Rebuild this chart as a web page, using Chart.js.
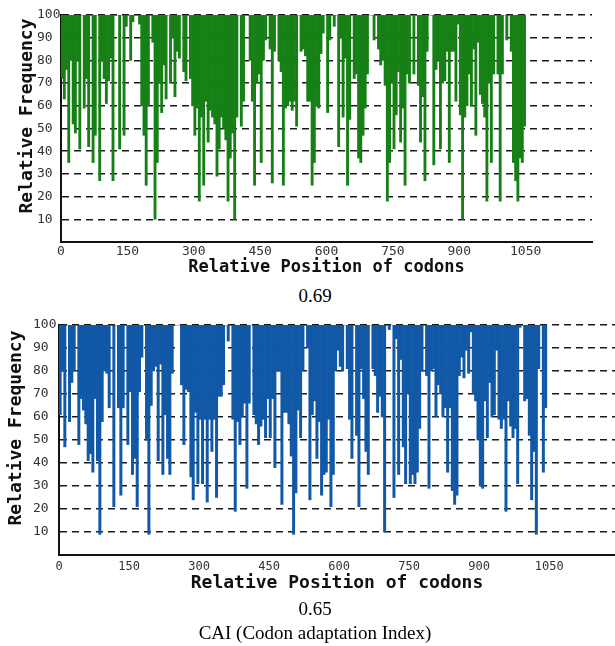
<!DOCTYPE html>
<html lang="en">
  <head>
    <meta charset="UTF-8">
    <title>Relative adaptiveness of codons</title>
    <script src="https://cdn.jsdelivr.net/npm/chart.js@4.4.1/dist/chart.umd.min.js"></script>
    <style>
      body { margin: 0; background: #fff; width: 615px; height: 646px; position: relative; overflow: hidden; }
      canvas { position: absolute; left: 0; }
      #chart_top { top: 0; }
      #chart_bottom { top: 310px; }
      .caption { position: absolute; left: 0; width: 630px; text-align: center;
                 font-family: "Liberation Serif", serif; font-size: 19px; line-height: 20px; color: #000; }
    </style>
    <script>
      // each value covers a bin of 5 codons
      const binSize = 5;
      const xTickLabels = [0, 150, 300, 450, 600, 750, 900, 1050];
      const yTickLabels = [10, 20, 30, 40, 50, 60, 70, 80, 90, 100];
      const topValues = [
        72, 63, 76, 35, 80, 52, 48, 80, 41, 100,
        59, 72, 42, 100, 35, 47, 100, 27, 80, 72,
        61, 71, 81, 27, 100, 100, 41, 100, 47, 95,
        100, 80, 97, 100, 100, 96, 60, 47, 25, 60,
        100, 88, 10, 35, 70, 57, 78, 63, 100, 70,
        90, 64, 84, 81, 100, 75, 71, 100, 72, 60,
        47, 59, 18, 55, 25, 62, 44, 58, 55, 52,
        29, 41, 55, 50, 45, 18, 37, 48, 10, 55,
        100, 51, 62, 100, 100, 80, 62, 25, 70, 74,
        35, 80, 89, 100, 85, 26, 84, 100, 80, 75,
        25, 59, 60, 62, 58, 62, 51, 100, 84, 85,
        82, 62, 62, 25, 35, 60, 59, 83, 92, 100,
        57, 89, 100, 95, 100, 42, 90, 55, 81, 25,
        54, 100, 72, 74, 37, 35, 47, 59, 74, 100,
        100, 89, 100, 85, 78, 80, 69, 18, 35, 70,
        41, 56, 75, 44, 59, 25, 74, 70, 100, 74,
        100, 69, 44, 64, 27, 84, 100, 100, 34, 76,
        80, 41, 70, 71, 84, 35, 84, 84, 62, 96,
        56, 10, 55, 60, 74, 60, 85, 47, 88, 65,
        61, 55, 18, 70, 35, 74, 100, 74, 18, 74,
        100, 89, 100, 84, 35, 27, 18, 37, 35, 51
      ];
      const bottomValues = [
        61, 80, 47, 100, 58, 75, 80, 100, 48, 68,
        63, 57, 41, 44, 36, 68, 41, 9, 58, 80,
        79, 64, 100, 21, 100, 64, 26, 64, 100, 48,
        71, 35, 42, 21, 71, 86, 100, 50, 9, 65,
        80, 82, 41, 83, 35, 61, 42, 35, 79, 100,
        100, 100, 74, 48, 72, 71, 34, 24, 62, 31,
        59, 31, 59, 23, 59, 45, 59, 25, 69, 69,
        74, 100, 93, 100, 59, 19, 58, 48, 60, 66,
        29, 66, 100, 61, 57, 48, 56, 59, 51, 68,
        51, 68, 38, 80, 80, 22, 62, 62, 57, 43,
        9, 27, 63, 51, 80, 100, 90, 24, 61, 67,
        42, 58, 26, 35, 36, 59, 21, 35, 80, 89,
        82, 80, 100, 81, 59, 42, 100, 52, 21, 81,
        68, 45, 35, 100, 81, 78, 62, 69, 60, 10,
        100, 98, 100, 25, 94, 35, 85, 47, 31, 70,
        31, 35, 31, 36, 55, 80, 100, 78, 29, 80,
        81, 60, 74, 70, 60, 64, 36, 64, 28, 22,
        26, 78, 86, 77, 89, 79, 97, 70, 67, 50,
        30, 29, 67, 51, 75, 60, 61, 89, 59, 55,
        59, 19, 67, 56, 51, 55, 31, 99, 100, 67,
        68, 52, 24, 45, 9, 81, 100, 36, 64
      ];

      // rotated y-axis title drawn where the original has it
      const sideTitle = {
        id: 'sideTitle',
        afterDraw(chart, args, opts) {
          const ctx = chart.ctx;
          ctx.save();
          ctx.translate(opts.x, opts.y);
          ctx.rotate(-Math.PI / 2);
          ctx.font = 'bold 18px "DejaVu Sans Mono"';
          ctx.fillStyle = '#111';
          ctx.textAlign = 'center';
          ctx.textBaseline = 'middle';
          ctx.fillText(opts.text, 0, 0);
          ctx.restore();
        }
      };

      function makeChart(id, values, color, s) {
        const points = values.map((v, i) => ({ x: i * binSize + binSize / 2, y: [v, 100] }));
        new Chart(document.getElementById(id).getContext('2d'), {
          type: 'bar',
          data: {
            datasets: [{
              data: points,
              backgroundColor: color,
              borderWidth: 0,
              barPercentage: 1,
              categoryPercentage: 1
            }]
          },
          options: {
            responsive: false,
            animation: false,
            layout: { padding: { top: 15, left: s.padLeft, right: s.padRight, bottom: 0 } },
            plugins: {
              legend: { display: false },
              tooltip: { enabled: false },
              sideTitle: { text: 'Relative Frequency', x: s.titleX, y: s.titleY }
            },
            scales: {
              x: {
                type: 'linear',
                offset: false,
                min: 0,
                max: s.xMax,
                z: 1,
                afterFit: (sc) => { sc.height = s.xHeight; },
                afterBuildTicks: (sc) => { sc.ticks = xTickLabels.map(v => ({ value: v })); },
                grid: { display: false, drawTicks: false },
                border: { display: true, color: '#111', width: 2 },
                ticks: {
                  autoSkip: false,
                  maxRotation: 0,
                  padding: s.xTickPad,
                  color: '#333',
                  font: { family: 'DejaVu Sans Mono', size: s.tickSize },
                  callback: (v) => String(v)
                },
                title: {
                  display: true,
                  text: 'Relative Position of codons',
                  color: '#111',
                  padding: { top: 0, bottom: s.xTitlePad },
                  font: { family: 'DejaVu Sans Mono', size: s.xTitleSize, weight: 'bold' }
                }
              },
              y: {
                min: 0,
                max: 100,
                z: 1,
                afterFit: (sc) => { sc.width = s.yWidth; },
                afterBuildTicks: (sc) => { sc.ticks = [0].concat(yTickLabels).map(v => ({ value: v })); },
                grid: {
                  color: (c) => c.tick.value === 0 ? 'rgba(0,0,0,0)' : '#1a1a1a',
                  lineWidth: 1.5,
                  drawTicks: false
                },
                border: { display: true, color: '#111', width: 2, dash: [7, 5] },
                ticks: {
                  crossAlign: 'far',
                  padding: 0,
                  color: '#333',
                  font: { family: 'DejaVu Sans Mono', size: 13 },
                  callback: (v) => v === 0 ? '' : String(v)
                }
              }
            }
          },
          plugins: [sideTitle]
        });
      }

      window.onload = function () {
        makeChart('chart_top', topValues, '#168016', {
          padLeft: 37, padRight: 23, yWidth: 24, xMax: 1200, xHeight: 43,
          xTickPad: 2, tickSize: 13, xTitlePad: 7, xTitleSize: 17, titleX: 27, titleY: 116
        });
        makeChart('chart_bottom', bottomValues, '#1158a6', {
          padLeft: 33, padRight: 0, yWidth: 26, xMax: 1191, xHeight: 45,
          xTickPad: 5, tickSize: 12, xTitlePad: 6, xTitleSize: 18, titleX: 16, titleY: 118
        });
      };
    </script>
  </head>
  <body>
    <canvas id="chart_top" width="615" height="285"></canvas>
    <div class="caption" style="top: 286px;">0.69</div>
    <canvas id="chart_bottom" width="615" height="290"></canvas>
    <div class="caption" style="top: 599px;">0.65</div>
    <div class="caption" style="top: 623px;">CAI (Codon adaptation Index)</div>
  </body>
</html>
